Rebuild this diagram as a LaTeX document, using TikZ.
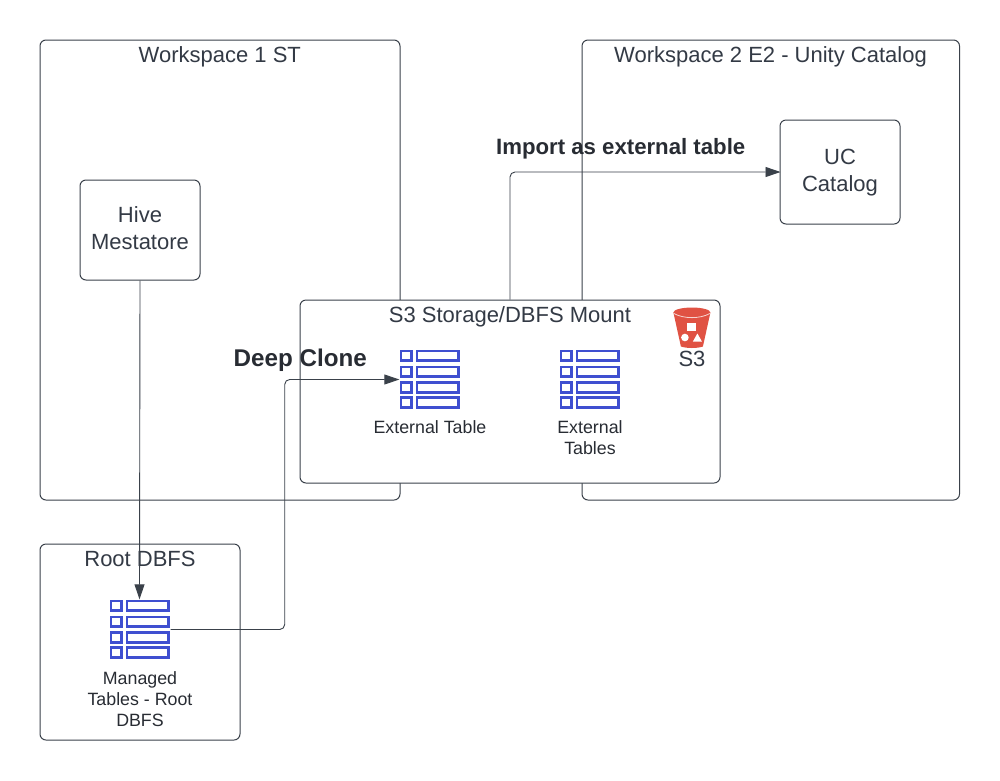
\documentclass[tikz,border=0pt]{standalone}
\usepackage{fontspec}
\setmainfont{Liberation Sans}
\usetikzlibrary{arrows.meta,calc}
\definecolor{linec}{HTML}{3A414A}
\definecolor{textc}{HTML}{333A45}
\definecolor{boldc}{HTML}{282C33}
\definecolor{iconb}{HTML}{3F4FD0}
\definecolor{bucket}{HTML}{E05243}
\newcommand{\fsz}[2]{\fontsize{#1}{#2}\selectfont}
\tikzset{
  x=1pt,y=-1pt,
  box/.style={draw=linec,line width=1pt,rounded corners=6pt,fill=white,inner sep=0pt,anchor=north west},
  title/.style={text=textc,font=\fsz{22}{27},inner sep=0pt,anchor=center},
  small/.style={text=boldc,font=\fsz{17.8}{21},inner sep=0pt,align=center,anchor=center},
  boxtext/.style={text=textc,font=\fsz{22}{27},align=center},
  boldlab/.style={text=boldc,font=\bfseries\fsz{22.2}{26},inner sep=0pt,anchor=center},
  conn/.style={draw=linec,line width=0.9pt,rounded corners=5pt,shorten >=-1pt,-{Triangle[length=15pt,width=10pt]}},
  tableicon/.style={minimum size=62pt,inner sep=0pt,draw=none,path picture={
    \foreach \yy in {-28.6,-12.6,3.1,18.1}{
      \draw[draw=iconb,line width=2.8pt,line join=miter]
        ($(path picture bounding box.center)+(-28.6,\yy)$) rectangle ++(10.2,9.8);
      \draw[draw=iconb,line width=2.8pt,line join=miter]
        ($(path picture bounding box.center)+(-12.6,\yy)$) rectangle ++(41.2,9.8);
    }}},
}
\begin{document}
\begin{tikzpicture}
\useasboundingbox (0.5,0.5) rectangle (1000.5,780.5);
\fill[white] (0.5,0.5) rectangle (1000.5,780.5);
% containers
\node[box,minimum width=360pt,minimum height=460pt] (ws1) at (40,40) {};
\node[box,minimum width=377.5pt,minimum height=460pt] (ws2) at (582,40) {};
\node[box,minimum width=420pt,minimum height=183pt] (s3box) at (300,300) {};
\node[box,minimum width=200pt,minimum height=196pt] (root) at (40,544) {};
\node[box,minimum width=120pt,minimum height=100pt] (hive) at (80,180) {};
\node[box,minimum width=120pt,minimum height=104pt] (uc) at (780,120) {};
% titles
\node[title] (t1) at (220.3,57.5) {Workspace 1 ST};
\node[title] (t2) at (771,57.5) {Workspace 2 E2 - Unity Catalog};
\node[title] (t3) at (510.5,317) {S3 Storage/DBFS Mount};
\node[title] (t4) at (140.5,559.2) {Root DBFS};
\node[boxtext] (hivet) at (140.5,228.5) {Hive\\Mestatore};
\node[boxtext] (uct) at (840.5,173) {UC\\Catalog};
% table icons
\node[tableicon] (tab1) at (430,380) {};
\node[tableicon] (tab2) at (590,380) {};
\node[tableicon] (tab3) at (140,630) {};
\node[small] (l1) at (430.5,428) {External Table};
\node[small] (l2) at (590.5,438.5) {External\\Tables};
\node[small] (l3) at (140.5,699.5) {Managed\\Tables - Root\\DBFS};
% S3 icon
\coordinate (bk) at (692.4,328);
\fill[bucket] ($(bk)+(-18.5,-15)$) -- ($(bk)+(18.5,-15)$) -- ($(bk)+(11,19)$)
  .. controls ($(bk)+(5,21)$) and ($(bk)+(-5,21)$) .. ($(bk)+(-11,19)$) -- cycle;
\fill[bucket] ($(bk)+(0,-15)$) ellipse [x radius=18.5pt,y radius=5pt];
\draw[white!75!bucket,line width=0.8pt] ($(bk)+(-18,-14)$) .. controls ($(bk)+(-8,-8.5)$) and ($(bk)+(8,-8.5)$) .. ($(bk)+(18,-14)$);
\fill[white] ($(bk)+(-5,-5)$) rectangle ($(bk)+(4,3.5)$);
\fill[white] ($(bk)+(-7,10)$) circle [radius=3.8pt];
\fill[white] ($(bk)+(1,14)$) -- ($(bk)+(10,14)$) -- ($(bk)+(5.5,6)$) -- cycle;
\node[title] (s3l) at (692.5,359) {S3};
% connectors
\draw[conn] (hive.south) -- (tab3.north);
\draw[conn] (tab3.east) -- ++(114,0) |- (tab1.west);
\draw[conn] (s3box.north) |- (uc.west);
% connector labels
\node[boldlab,font=\bfseries\fsz{24.2}{29}] (dc) at (300.8,360.5) {Deep Clone};
\node[boldlab] (imp) at (621.2,149) {Import as external table};
\end{tikzpicture}
\end{document}
